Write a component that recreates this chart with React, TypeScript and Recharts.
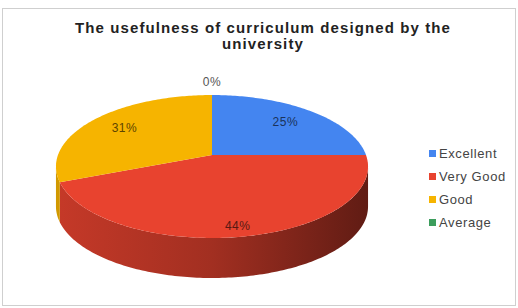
import React from "react";
import { PieChart, Pie, Cell, Legend } from "recharts";

const categories = ["Excellent", "Very Good", "Good", "Average"];
const shares = [25, 44, 31, 0];
const colors = ["#4485f0", "#e8432f", "#f6b400", "#3c9d5c"];
const titleLines = ["The usefulness of curriculum designed by the", "university"];

const data = categories.map((name, i) => ({ name, value: shares[i] }));

const FONT = "'Liberation Sans', Arial, sans-serif";
const RAD = Math.PI / 180;
// simple perspective for the tilted disc
const Y_RATIO = 0.452;
const PERSP = 0.161;
const DEPTH_RATIO = 0.26;

function darken(hex: string, k: number) {
  const n = parseInt(hex.slice(1), 16);
  const r = Math.round(((n >> 16) & 255) * k);
  const g = Math.round(((n >> 8) & 255) * k);
  const b = Math.round((n & 255) * k);
  return `rgb(${r},${g},${b})`;
}

function project(cx: number, cy: number, r: number, deg: number, k = 1) {
  const sn = Math.sin(deg * RAD);
  const cs = Math.cos(deg * RAD);
  const d = 1 + PERSP * sn;
  return [cx + (r * k * cs) / d, cy - (r * Y_RATIO * k * sn) / d];
}

function arc(cx: number, cy: number, r: number, a: number, b: number, dy = 0) {
  const steps = Math.max(2, Math.ceil(Math.abs(b - a)));
  const pts: string[] = [];
  for (let i = 0; i <= steps; i++) {
    const [x, y] = project(cx, cy, r, a + ((b - a) * i) / steps);
    pts.push(`${x.toFixed(2)},${(y + dy).toFixed(2)}`);
  }
  return pts;
}

function Slice3D(props: any) {
  const { cx, cy, outerRadius, startAngle, endAngle, fill } = props;
  if (Math.abs(endAngle - startAngle) < 0.01) return null;
  const depth = outerRadius * DEPTH_RATIO;
  const top = `M${cx},${cy} L${arc(cx, cy, outerRadius, startAngle, endAngle).join(" L")} Z`;

  // front wall: the part of the rim between the two silhouette points
  const edge = Math.asin(PERSP) / RAD;
  const lo = Math.min(startAngle, endAngle);
  const hi = Math.max(startAngle, endAngle);
  const sides: string[] = [];
  for (let k = -2; k <= 1; k++) {
    const a = Math.max(lo, -180 + edge + 360 * k);
    const b = Math.min(hi, -edge + 360 * k);
    if (b - a > 0.01) {
      const upper = arc(cx, cy, outerRadius, a, b);
      const lower = arc(cx, cy, outerRadius, b, a, depth);
      sides.push(`M${upper.join(" L")} L${lower.join(" L")} Z`);
    }
  }
  const gid = `side-${fill.slice(1)}`;

  return (
    <g>
      <defs>
        <linearGradient
          id={gid}
          gradientUnits="userSpaceOnUse"
          x1={cx - outerRadius}
          y1={0}
          x2={cx + outerRadius}
          y2={0}
        >
          <stop offset="0" stopColor={darken(fill, 0.85)} />
          <stop offset="0.5" stopColor={darken(fill, 0.7)} />
          <stop offset="1" stopColor={darken(fill, 0.42)} />
        </linearGradient>
      </defs>
      {sides.map((d, i) => (
        <path key={i} d={d} fill={`url(#${gid})`} />
      ))}
      <path d={top} fill={fill} />
    </g>
  );
}

function renderLabel(props: any) {
  const { cx, cy, outerRadius, midAngle, percent, value, fill } = props;
  const k = value === 0 ? 1.22 : 0.75;
  const [x, py] = project(cx, cy, outerRadius, midAngle, k);
  const sn = Math.sin(midAngle * RAD);
  const y = py + (sn < 0 ? -sn * outerRadius * DEPTH_RATIO * 0.25 : 0);
  return (
    <text
      x={x}
      y={y}
      textAnchor="middle"
      dominantBaseline="central"
      fill={value === 0 ? "#555" : darken(fill, 0.38)}
      fontSize={12}
      fontFamily={FONT}
      letterSpacing={0.5}
    >
      {`${Math.round(percent * 100)}%`}
    </text>
  );
}

function LegendList({ payload }: any) {
  const items = [...(payload ?? [])].sort(
    (a: any, b: any) => categories.indexOf(a.value) - categories.indexOf(b.value)
  );
  return (
    <ul style={{ listStyle: "none", margin: 0, padding: 0 }}>
      {items.map((item: any) => (
        <li
          key={item.value}
          style={{
            display: "flex",
            alignItems: "center",
            height: 23,
            fontSize: 13,
            letterSpacing: 0.6,
            color: "#444",
            fontFamily: FONT,
          }}
        >
          <span
            style={{
              display: "inline-block",
              width: 7,
              height: 7,
              background: item.color,
              marginRight: 3,
            }}
          />
          {item.value}
        </li>
      ))}
    </ul>
  );
}

export default function App() {
  return (
    <div
      style={{
        position: "absolute",
        left: 0,
        top: 0,
        width: 518,
        height: 308,
        background: "#fff",
      }}
    >
      <div
        style={{
          position: "absolute",
          left: 2,
          top: 8,
          width: 512,
          height: 296,
          border: "1px solid #cfcfcf",
        }}
      />
      <div
        style={{
          position: "absolute",
          left: 0,
          top: 20,
          width: 526,
          textAlign: "center",
          fontFamily: FONT,
          fontWeight: "bold",
          fontSize: 15,
          letterSpacing: 1.1,
          lineHeight: "16px",
          color: "#222",
        }}
      >
        {titleLines.map((t) => (
          <div key={t}>{t}</div>
        ))}
      </div>
      <div style={{ position: "absolute", left: 0, top: 0 }}>
        <PieChart width={518} height={308} margin={{ top: 0, right: 0, bottom: 0, left: 0 }}>
          <Pie
            data={data}
            dataKey="value"
            nameKey="name"
            cx={212}
            cy={155}
            outerRadius={154}
            startAngle={90}
            endAngle={-270}
            stroke="none"
            shape={Slice3D}
            label={renderLabel}
            labelLine={false}
            isAnimationActive={false}
          >
            {data.map((d, i) => (
              <Cell key={d.name} fill={colors[i]} />
            ))}
          </Pie>
          <Legend
            layout="vertical"
            align="right"
            verticalAlign="top"
            content={LegendList}
            wrapperStyle={{ left: 429, top: 142, width: 90 }}
          />
        </PieChart>
      </div>
    </div>
  );
}
